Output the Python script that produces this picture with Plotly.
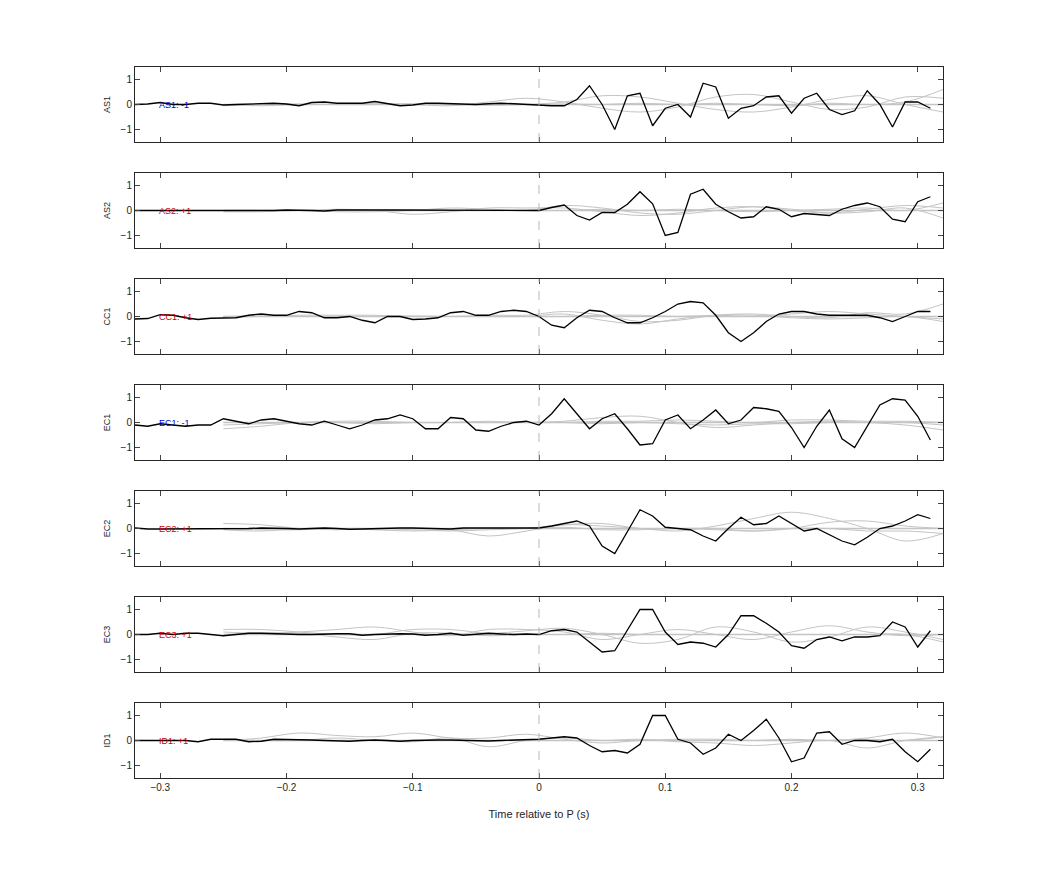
import plotly.graph_objects as go
from plotly.subplots import make_subplots

names = ["AS1", "AS2", "CC1", "EC1", "EC2", "EC3", "ID1"]
labels = ["AS1: -1", "AS2: +1", "CC1: +1", "EC1: -1", "EC2: +1", "EC3: +1", "ID1: +1"]
label_colors = ["#0000cc", "#cc0000", "#cc0000", "#0000cc", "#cc0000", "#cc0000", "#cc0000"]

t = [round(-0.32 + 0.01 * i, 2) for i in range(64)]
tg = [round(-0.25 + 0.03 * i, 2) for i in range(20)]

black = {
 "AS1": [0,0.02,0.08,0,0,0.05,0.05,-0.02,0,0.02,0.03,0.05,0.02,-0.05,0.08,0.1,0.05,0.05,0.05,0.12,0.05,-0.05,-0.02,0.05,0.05,0.03,0.03,0,0.03,0.05,0.03,0,
         0,-0.05,-0.05,0.2,0.75,0,-1.0,0.35,0.45,-0.85,-0.15,0,-0.5,0.85,0.7,-0.55,-0.15,-0.05,0.3,0.35,-0.35,0.25,0.45,-0.2,-0.4,-0.25,0.55,0,-0.9,0.1,0.1,-0.15],
 "AS2": [0,0,0,0,0,0,0,-0.02,-0.02,-0.03,-0.02,0,0.02,0.02,0,-0.02,0.02,0.02,0.03,0.02,0.02,0.02,0,0.02,0.02,0.02,0.02,0.02,0.02,0.02,0.02,0.02,
         0,0.12,0.22,-0.2,-0.38,-0.08,-0.08,0.25,0.75,0.27,-1.0,-0.88,0.65,0.85,0.25,-0.05,-0.3,-0.25,0.15,0.05,-0.25,-0.12,-0.15,-0.2,0.05,0.2,0.3,0.15,-0.35,-0.45,0.35,0.55],
 "CC1": [-0.1,-0.08,0.07,0.05,-0.05,-0.12,-0.07,-0.05,-0.05,0.05,0.1,0.05,0.05,0.2,0.15,-0.05,-0.05,0,-0.15,-0.25,0,0,-0.12,-0.1,-0.05,0.15,0.2,0.05,0.05,0.2,0.25,0.2,
         0,-0.35,-0.45,-0.05,0.25,0.2,-0.05,-0.25,-0.25,-0.05,0.2,0.5,0.6,0.55,0.05,-0.65,-1.0,-0.65,-0.2,0.1,0.2,0.2,0.1,0.05,0.05,0.05,0.05,-0.05,-0.2,0,0.2,0.2],
 "EC1": [-0.1,-0.15,-0.05,-0.1,-0.15,-0.1,-0.1,0.15,0.05,-0.05,0.1,0.15,0.05,-0.05,-0.1,0.05,-0.1,-0.25,-0.1,0.1,0.15,0.3,0.15,-0.25,-0.25,0.2,0.15,-0.3,-0.35,-0.15,0,0.05,
         -0.1,0.35,0.95,0.35,-0.25,0.15,0.35,-0.25,-0.9,-0.85,0.1,0.3,-0.25,0.1,0.5,-0.05,0.1,0.6,0.55,0.45,-0.2,-1.0,-0.15,0.5,-0.65,-1.0,-0.15,0.7,0.95,0.9,0.25,-0.7],
 "EC2": [0.02,-0.02,-0.02,-0.02,0,0,-0.02,-0.02,0,0,0.02,0.02,0,-0.02,0,0.02,0,-0.03,-0.02,0,0,0.02,0.02,0,0,-0.02,0.02,0.02,0,0.02,0.02,0.02,
         0.02,0.1,0.2,0.3,0.1,-0.7,-1.0,-0.1,0.75,0.5,0.05,0,-0.05,-0.3,-0.5,0,0.45,0.15,0.2,0.5,0.2,-0.1,0,-0.25,-0.5,-0.65,-0.35,0,0.1,0.3,0.55,0.4],
 "EC3": [0,0,0.05,0,0.05,0.05,0,-0.05,0,0.05,0.05,0.03,0,0,0,0.02,0.03,0.03,-0.03,0,0.02,0.03,0.02,-0.03,0,0.05,-0.03,0.02,0.05,0.02,0,0.02,
         0,0.15,0.2,0.1,-0.3,-0.7,-0.65,0.2,1.0,1.0,0.1,-0.4,-0.3,-0.35,-0.5,0,0.75,0.75,0.45,0.1,-0.45,-0.55,-0.2,-0.1,-0.25,-0.1,-0.1,-0.05,0.5,0.3,-0.5,0.15],
 "ID1": [0,0,0,0,0,-0.05,0.05,0.05,0.05,-0.05,-0.03,0.05,0.05,0.05,0.02,0,-0.03,-0.03,0,0.02,0,-0.03,0,0.02,0.02,0.02,0,0,-0.02,0,0.02,0.02,
         0.05,0.1,0.15,0.1,-0.2,-0.45,-0.4,-0.5,-0.15,1.0,1.0,0.05,-0.1,-0.55,-0.3,0.25,0,0.4,0.85,0.1,-0.85,-0.7,0.3,0.35,-0.15,0,0,-0.05,0.05,-0.45,-0.85,-0.35],
}

gray = {
 "AS1": [[0,-0.05,0,0,0.05,0,-0.05,0.1,0.25,0.1,-0.15,-0.3,-0.1,0.3,0.4,0.1,-0.2,-0.1,0.3,0.25],
         [-0.05,0,0.02,0,0,0.03,0,-0.03,0,0.1,0.35,0.3,0.05,-0.2,-0.3,-0.1,0.2,0.35,0,-0.3],
         [0,0,0,0,0,0,0,0,0,0.02,0,0.05,0,0.05,0,-0.05,0.05,0,0.1,0.6]],
 "AS2": [[-0.05,-0.05,0,0.05,0,-0.15,-0.05,0.1,0.1,0.1,-0.05,-0.2,-0.1,0.1,0.15,0,-0.1,0.05,0.2,0.1],
         [0,0,0,-0.05,-0.05,0,0.1,0.05,0,0.2,0.1,-0.1,-0.15,0,0.15,0.05,-0.1,-0.05,0.1,-0.3],
         [0,0,0,0,0,0.03,0,0,0,0,0.05,0,0.05,0,-0.05,0,0.05,0.1,0,0.3]],
 "CC1": [[0,0,0.05,0.05,0.05,0,0,0.05,0.05,0.2,0.05,-0.2,-0.15,0.05,0.1,0,-0.05,0.15,0.1,0.5],
         [0,0.02,0,0,0,0.02,0,0,0,0.1,-0.15,-0.3,-0.1,0.05,0.05,-0.05,-0.1,-0.05,0,-0.2],
         [-0.02,0,0,0,0,0,0,0,0,0,0.05,0.05,0,0.05,0,0.1,0.2,0.1,0,-0.1]],
 "EC1": [[-0.25,-0.15,0,0.05,0.05,0,0,0.05,0,0.05,0.2,0.25,0,-0.2,-0.1,0,0.05,0,0,-0.1],
         [-0.1,-0.05,0,0,-0.05,0,0,0,0,0,0.05,0.05,0.1,0.05,0,0.1,0.1,0.05,0.05,0],
         [0,0,0,0,0,0,0,0,0,0,-0.05,0,-0.05,-0.1,-0.05,-0.05,0,0,-0.1,-0.3]],
 "EC2": [[0.2,0.15,0,-0.05,0,-0.05,-0.1,-0.05,0,0.15,0.1,0,-0.1,0.1,0.4,0.65,0.4,0,-0.5,-0.2],
         [0,-0.05,-0.05,0,0,0,-0.05,-0.3,-0.1,0.15,0.2,0,0,0,-0.1,0,0.25,0.3,0.1,0],
         [-0.05,-0.1,0,0,-0.05,-0.1,-0.05,0,0,0.05,-0.05,-0.05,0,-0.05,-0.1,0,0,-0.1,-0.1,-0.2]],
 "EC3": [[0.2,0.2,0.1,0,0,0.2,0.2,0.05,0.15,0.25,0,-0.35,-0.2,0.3,0.1,-0.3,-0.1,0.3,0.1,-0.2],
         [0.1,0.05,0.1,0.2,0.3,0.1,-0.05,0.2,0.2,0.1,-0.2,0,0.2,0,-0.2,0.1,0.35,0.1,-0.05,0],
         [0,0.05,0.05,-0.1,-0.2,0.05,0.05,-0.05,0,0,0.05,0,0,0,0,0,0,0,0,-0.3]],
 "ID1": [[0,0.1,0.3,0.2,0.15,0.3,0.1,0.1,0.25,0.05,-0.1,0,0,0,0,0,0,0.1,0.3,0.1],
         [0.05,0,0,0.1,0,-0.05,0.1,-0.25,0,0.1,0,0.05,-0.05,-0.1,-0.2,-0.1,0,-0.3,0,0.15],
         [0,0,0,0,0,0,0,0,0,0,0,0,0.05,0.05,0,0.05,0,0.05,0,0.15]],
}

n = len(names)
fig = make_subplots(rows=n, cols=1, vertical_spacing=31/711, shared_xaxes=False)
for i, nm in enumerate(names):
    r = i + 1
    for g in gray[nm]:
        fig.add_trace(go.Scatter(x=tg, y=g, mode="lines", line=dict(color="#c4c4c4", width=1, shape="spline"),
                                 showlegend=False, hoverinfo="skip"), row=r, col=1)
    fig.add_trace(go.Scatter(x=tg, y=[0]*len(tg), mode="lines", line=dict(color="#c4c4c4", width=1.5),
                             showlegend=False, hoverinfo="skip"), row=r, col=1)
    fig.add_trace(go.Scatter(x=t, y=black[nm], mode="lines", line=dict(color="black", width=1.3),
                             showlegend=False), row=r, col=1)
    fig.add_vline(x=0, line=dict(color="#c8a8a8", width=0.9, dash="dash"), row=r, col=1)
    fig.add_annotation(x=-0.3, y=0, text=labels[i], showarrow=False, xanchor="left", xshift=-3,
                       font=dict(size=9, color=label_colors[i]), row=r, col=1)
    fig.update_yaxes(range=[-1.5, 1.5], tickvals=[-1, 0, 1], ticks="inside", ticklen=5,
                     showgrid=False, zeroline=False, showline=True, mirror="ticks", linecolor="#262626",
                     linewidth=1, title=dict(text=nm, font=dict(size=9), standoff=8),
                     tickfont=dict(size=10), row=r, col=1)
    fig.update_xaxes(range=[-0.32, 0.32], tickvals=[-0.3, -0.2, -0.1, 0, 0.1, 0.2, 0.3], ticks="inside", ticklen=5,
                     showgrid=False, zeroline=False, showline=True, mirror="ticks", linecolor="#262626",
                     linewidth=1, showticklabels=(r == n), tickfont=dict(size=10), row=r, col=1)
fig.update_xaxes(title=dict(text="Time relative to P (s)", font=dict(size=11), standoff=18), row=n, col=1)
fig.update_layout(width=1042, height=875, margin=dict(l=127, r=107, t=59, b=105),
                  plot_bgcolor="white", paper_bgcolor="white",
                  font=dict(family="Liberation Sans, Arial, sans-serif", color="#262626"))
fig.write_html("out.html")
